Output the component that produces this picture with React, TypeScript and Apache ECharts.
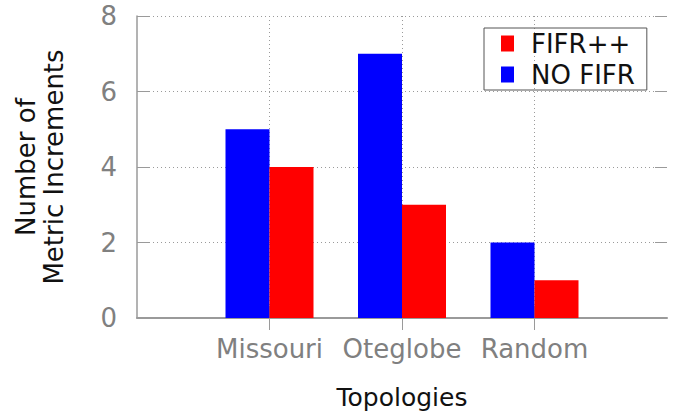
import React, { useEffect, useRef } from "react";
import * as echarts from "echarts";

const categories = ["", "Missouri", "Oteglobe", "Random", ""];
const noFifr = ["-", 5, 7, 2, "-"];
const fifrPP = ["-", 4, 3, 1, "-"];
const legendNames = ["FIFR++", "NO FIFR"];
const yTitle = "Number of\nMetric Increments";
const xTitle = "Topologies";

const FONT = "DejaVu Sans";
const GRAY = "#808080";
const LINE = "#9a9a9a";

export default function App() {
  const ref = useRef<HTMLDivElement>(null);
  useEffect(() => {
    const chart = echarts.init(ref.current!, null, { renderer: "svg" });
    const inner = (idx: number) => idx >= 1 && idx <= 3;
    chart.setOption({
      animation: false,
      textStyle: { fontFamily: FONT },
      grid: { left: 137, right: 8, top: 16, bottom: 99 },
      legend: {
        data: legendNames,
        orient: "vertical",
        left: 484,
        top: 28,
        padding: [0, 12, 0, 17],
        itemGap: 0,
        itemWidth: 13,
        itemHeight: 16,
        icon: "rect",
        borderColor: "#555",
        borderWidth: 1,
        textStyle: { fontSize: 26, color: "#111", fontFamily: FONT, lineHeight: 31, padding: [0, 0, 0, 12] },
      },
      xAxis: [
        {
          type: "category",
          data: categories,
          boundaryGap: false,
          position: "bottom",
          axisLine: { show: true, lineStyle: { color: LINE, width: 2 } },
          axisTick: { show: true, inside: true, length: 12, interval: inner, lineStyle: { color: LINE } },
          axisLabel: { color: GRAY, fontSize: 26, fontFamily: FONT, margin: 18, interval: 0 },
          splitLine: { show: true, interval: inner, lineStyle: { color: LINE, type: [1, 3], width: 1 } },
          name: xTitle,
          nameLocation: "middle",
          nameGap: 67,
          nameTextStyle: { fontSize: 25, color: "#111", fontFamily: FONT },
        },
        {
          type: "category",
          data: categories,
          boundaryGap: false,
          position: "top",
          axisLine: { show: false },
          axisTick: { show: true, inside: true, length: 12, interval: inner, lineStyle: { color: LINE } },
          axisLabel: { show: false },
          splitLine: { show: false },
        },
      ],
      yAxis: [
        {
          type: "value",
          min: 0,
          max: 8,
          interval: 2,
          position: "left",
          axisLine: { show: true, lineStyle: { color: LINE, width: 1.5 } },
          axisTick: { show: true, inside: true, length: 12, lineStyle: { color: LINE } },
          axisLabel: { color: GRAY, fontSize: 26, fontFamily: FONT, margin: 20 },
          splitLine: { show: true, lineStyle: { color: LINE, type: [1, 3], width: 1 } },
          name: yTitle,
          nameLocation: "middle",
          nameRotate: 90,
          nameGap: 69,
          nameTextStyle: { fontSize: 26, color: "#111", fontFamily: FONT, lineHeight: 28 },
        },
        {
          type: "value",
          min: 0,
          max: 8,
          interval: 2,
          position: "right",
          axisLine: { show: false },
          axisTick: { show: true, inside: true, length: 12, lineStyle: { color: LINE } },
          axisLabel: { show: false },
          splitLine: { show: false },
        },
      ],
      series: [
        {
          name: "NO FIFR",
          type: "bar",
          data: noFifr,
          barWidth: 44,
          barGap: "0%",
          itemStyle: { color: "#0000ff" },
          z: 3,
        },
        {
          name: "FIFR++",
          type: "bar",
          data: fifrPP,
          barWidth: 44,
          barGap: "0%",
          itemStyle: { color: "#ff0000" },
          z: 3,
        },
      ],
    });
    return () => chart.dispose();
  }, []);
  return (
    <div
      ref={ref}
      style={{ position: "fixed", left: 0, top: 0, width: 675, height: 417, background: "#fff" }}
    />
  );
}
